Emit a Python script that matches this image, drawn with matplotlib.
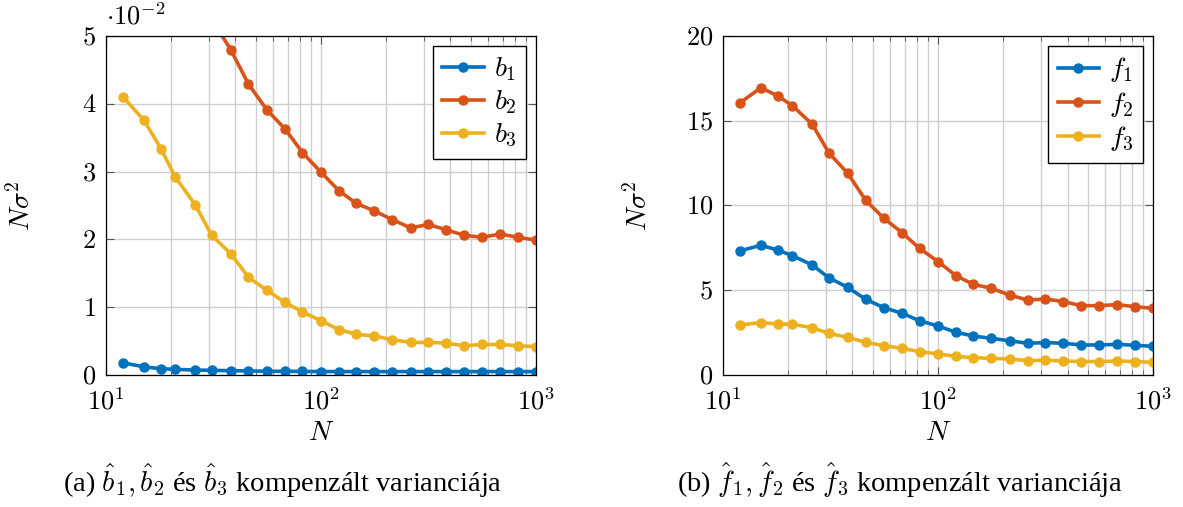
import numpy as np
import matplotlib
matplotlib.use("Agg")
from matplotlib import pyplot as plt
from matplotlib.ticker import LogLocator, FixedLocator, FuncFormatter, NullFormatter

plt.rcParams['font.family'] = ['Liberation Serif', 'DejaVu Serif']
plt.rcParams['mathtext.fontset'] = 'cm'

# sample sizes (log spaced, 12 .. 1000)
N = [12, 15, 18, 21, 26, 31, 38, 46, 56, 68, 82, 100,
     121, 146, 177, 215, 261, 316, 383, 464, 562, 681, 825, 1000]

# left panel, values in units of 1e-2
b1 = [0.18, 0.12, 0.093, 0.083, 0.073, 0.068, 0.064, 0.059, 0.055, 0.054, 0.052, 0.051,
      0.05, 0.05, 0.05, 0.05, 0.05, 0.05, 0.05, 0.05, 0.05, 0.05, 0.05, 0.05]
b2 = [7.4, 6.8, 6.3, 5.9, 5.55, 5.25, 4.80, 4.29, 3.91, 3.63, 3.28, 2.99,
      2.72, 2.53, 2.42, 2.29, 2.17, 2.22, 2.14, 2.06, 2.03, 2.08, 2.03, 1.99]
b3 = [4.10, 3.76, 3.34, 2.92, 2.51, 2.06, 1.79, 1.44, 1.25, 1.07, 0.93, 0.80,
      0.67, 0.60, 0.575, 0.52, 0.48, 0.48, 0.47, 0.43, 0.45, 0.45, 0.43, 0.42]

# right panel
f1 = [7.33, 7.65, 7.37, 7.04, 6.49, 5.74, 5.17, 4.47, 3.97, 3.64, 3.20, 2.89,
      2.52, 2.30, 2.16, 2.02, 1.87, 1.91, 1.87, 1.77, 1.77, 1.81, 1.75, 1.69]
f2 = [16.06, 16.95, 16.46, 15.89, 14.79, 13.12, 11.90, 10.32, 9.24, 8.40, 7.47, 6.69,
      5.86, 5.35, 5.11, 4.72, 4.42, 4.48, 4.33, 4.09, 4.09, 4.15, 4.03, 3.93]
f3 = [2.95, 3.09, 3.01, 2.99, 2.79, 2.46, 2.22, 1.93, 1.73, 1.57, 1.38, 1.24,
      1.10, 1.02, 0.98, 0.94, 0.85, 0.87, 0.83, 0.79, 0.79, 0.83, 0.79, 0.75]

colors = ['#0072BD', '#D95319', '#EDB120']


def style_axis(ax, yticks, ymax):
    ax.set_xscale('log')
    ax.set_xlim(10, 1000)
    ax.set_ylim(0, ymax)
    ax.xaxis.set_major_locator(FixedLocator([10, 100, 1000]))
    ax.xaxis.set_major_formatter(FuncFormatter(lambda v, p: r'$10^{%d}$' % round(np.log10(v))))
    ax.xaxis.set_minor_locator(LogLocator(base=10, subs=np.arange(2, 10)))
    ax.xaxis.set_minor_formatter(NullFormatter())
    ax.set_yticks(yticks)
    ax.yaxis.set_major_formatter(FuncFormatter(lambda v, p: r'$%g$' % v))
    ax.grid(True, which='major', color='#cfcfcf', lw=1.0)
    ax.grid(True, which='minor', axis='x', color='#cfcfcf', lw=1.0)
    ax.set_axisbelow(True)
    ax.tick_params(which='both', direction='in', top=True, right=True, labelsize=19)
    ax.tick_params(axis='x', pad=9)
    ax.tick_params(axis='y', pad=7)
    ax.tick_params(which='major', length=6, color='#555555')
    ax.tick_params(which='minor', length=3.5, color='#555555')
    for s in ax.spines.values():
        s.set_linewidth(0.9)
    ax.set_xlabel(r'$N$', fontsize=20, labelpad=5)
    ax.set_ylabel(r'$N\sigma^2$', fontsize=20)
    ax.yaxis.set_label_coords(-0.162, 0.5)


def draw(ax, series, names):
    for ys, c, nm in zip(series, colors, names):
        ax.plot(N, ys, color=c, lw=2.6, marker='o', ms=6.5, label=nm)
    ax.legend(loc='upper right', fontsize=20, frameon=True, fancybox=False,
              edgecolor='black', framealpha=1, borderaxespad=0.35,
              handlelength=1.5, handletextpad=0.35, labelspacing=0.2,
              borderpad=0.35)


fig = plt.figure(figsize=(11.83, 5.07), dpi=100)
ax1 = fig.add_axes([0.0896, 0.2604, 0.3635, 0.6686])
ax2 = fig.add_axes([0.6112, 0.2604, 0.3635, 0.6686])

draw(ax1, [b1, b2, b3], [r'$b_1$', r'$b_2$', r'$b_3$'])
style_axis(ax1, [0, 1, 2, 3, 4, 5], 5)
ax1.text(0.0, 1.02, r'$\cdot 10^{-2}$', transform=ax1.transAxes, fontsize=19,
         ha='left', va='bottom')

draw(ax2, [f1, f2, f3], [r'$f_1$', r'$f_2$', r'$f_3$'])
style_axis(ax2, [0, 5, 10, 15, 20], 20)

fig.text(0.239, 0.03,
         r'(a) $\hat{b}_1, \hat{b}_2$ és $\hat{b}_3$ kompenzált varianciája',
         ha='center', va='baseline', fontsize=20.5)
fig.text(0.761, 0.03,
         r'(b) $\hat{f}_1, \hat{f}_2$ és $\hat{f}_3$ kompenzált varianciája',
         ha='center', va='baseline', fontsize=20.5)

fig.savefig('out.png', dpi=100)
